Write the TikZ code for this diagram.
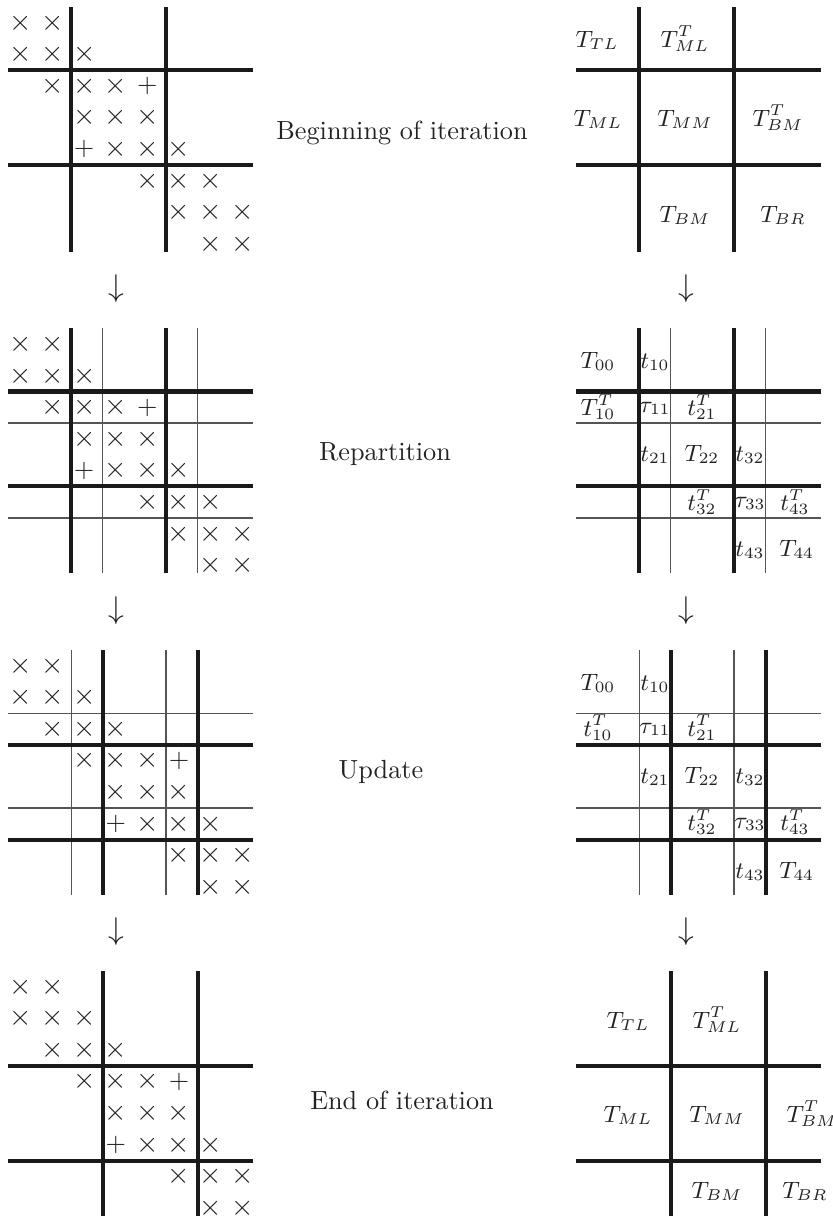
\documentclass[tikz,border=0pt]{standalone}
\usepackage{amsmath,amssymb}
\usepackage{tikz}
\definecolor{ink}{HTML}{222222}
\definecolor{rulecol}{HTML}{1A1A1A}
\definecolor{finecol}{HTML}{555555}
\newcommand{\cellw}{31.6}
\newcommand{\bandlist}{1/1,1/2,2/1,2/2,2/3,3/2,3/3,3/4,4/3,4/4,4/5,5/4,5/5,5/6,6/5,6/6,6/7,7/6,7/7,7/8,8/7,8/8}

\begin{document}
\begin{tikzpicture}[
    x=0.381pt, y=-0.381pt,
    font=\normalsize,
    heavy/.style={draw=rulecol, line width=1.55pt},
    light/.style={draw=finecol, line width=0.5pt},
    entry/.style={inner sep=0pt, text=ink, font=\fontsize{11}{13}\selectfont},
    plusentry/.style={inner sep=0pt, text=ink},
    blocklbl/.style={inner sep=0pt, anchor=base, text=ink, font=\small},
    phase/.style={inner sep=0pt, text=ink},
    down/.style={inner sep=0pt, text=ink, font=\fontsize{13}{15}\selectfont}
]
  \useasboundingbox (0,0) rectangle (833,1218);

  % beginning of iteration
  \begin{scope}[shift={(8,7)}]
    \foreach \k in {2,5} {
      \draw[heavy] (\k*\cellw,0) -- (\k*\cellw,245);
      \draw[heavy] (0,\k*\cellw) -- (245,\k*\cellw);
    }
    \foreach \r/\c in \bandlist
      \node[entry] (a-\r-\c) at ({13+(\c-1)*\cellw},{16+(\r-1)*\cellw}) {$\times$};
    \foreach \r/\c in {3/5,5/3}
      \node[plusentry] (a-\r-\c) at ({13+(\c-1)*\cellw},{16+(\r-1)*\cellw}) {$+$};
  \end{scope}
  \begin{scope}[shift={(576,7)}]
    \foreach \k in {2,5} {
      \draw[heavy] (\k*\cellw,0) -- (\k*\cellw,245);
      \draw[heavy] (0,\k*\cellw) -- (245,\k*\cellw);
    }
    \node[blocklbl] (a-tl) at (21,40) {$T_{TL}$};
    \node[blocklbl] (a-mlt) at (109,40) {$T_{ML}^T$};
    \node[blocklbl] (a-ml) at (22,119) {$T_{ML}$};
    \node[blocklbl] (a-mm) at (109,119) {$T_{MM}$};
    \node[blocklbl] (a-bmt) at (202,119) {$T_{BM}^T$};
    \node[blocklbl] (a-bm) at (109,215) {$T_{BM}$};
    \node[blocklbl] (a-br) at (207,215) {$T_{BR}$};
  \end{scope}
  \node[phase] (begin) at (402,133) {Beginning of iteration};
  \node[down] (a-dl) at (116.7,289) {$\downarrow$};
  \node[down] (a-dr) at (686.7,289) {$\downarrow$};

  % repartition
  \begin{scope}[shift={(8,328.3)}]
    \foreach \k in {3,6} {
      \draw[light] (\k*\cellw,0) -- (\k*\cellw,245);
      \draw[light] (0,\k*\cellw) -- (245,\k*\cellw);
    }
    \foreach \k in {2,5} {
      \draw[heavy] (\k*\cellw,0) -- (\k*\cellw,245);
      \draw[heavy] (0,\k*\cellw) -- (245,\k*\cellw);
    }
    \foreach \r/\c in \bandlist
      \node[entry] (b-\r-\c) at ({13+(\c-1)*\cellw},{16+(\r-1)*\cellw}) {$\times$};
    \foreach \r/\c in {3/5,5/3}
      \node[plusentry] (b-\r-\c) at ({13+(\c-1)*\cellw},{16+(\r-1)*\cellw}) {$+$};
  \end{scope}
  \begin{scope}[shift={(576,328.3)}]
    \foreach \k in {3,6} {
      \draw[light] (\k*\cellw,0) -- (\k*\cellw,245);
      \draw[light] (0,\k*\cellw) -- (245,\k*\cellw);
    }
    \foreach \k in {2,5} {
      \draw[heavy] (\k*\cellw,0) -- (\k*\cellw,245);
      \draw[heavy] (0,\k*\cellw) -- (245,\k*\cellw);
    }
    \node[blocklbl] (b-00) at (22,40) {$T_{00}$};
    \node[blocklbl] (b-10) at (79,40) {$t_{10}$};
    \node[blocklbl] (b-10t) at (22,87) {$T_{10}^T$};
    \node[blocklbl] (b-11) at (79,84) {$\tau_{11}$};
    \node[blocklbl] (b-21t) at (126,87) {$t_{21}^T$};
    \node[blocklbl] (b-21) at (79,133) {$t_{21}$};
    \node[blocklbl] (b-22) at (126,133) {$T_{22}$};
    \node[blocklbl] (b-32) at (174,133) {$t_{32}$};
    \node[blocklbl] (b-32t) at (126,182) {$t_{32}^T$};
    \node[blocklbl] (b-33) at (174,179) {$\tau_{33}$};
    \node[blocklbl] (b-43t) at (219,182) {$t_{43}^T$};
    \node[blocklbl] (b-43) at (174,228) {$t_{43}$};
    \node[blocklbl] (b-44) at (220.7,228) {$T_{44}$};
  \end{scope}
  \node[phase] (repart) at (385,454) {Repartition};
  \node[down] (b-dl) at (116.7,610.5) {$\downarrow$};
  \node[down] (b-dr) at (686.7,610.5) {$\downarrow$};

  % update
  \begin{scope}[shift={(8,650)}]
    \foreach \k in {2,5} {
      \draw[light] (\k*\cellw,0) -- (\k*\cellw,245);
      \draw[light] (0,\k*\cellw) -- (245,\k*\cellw);
    }
    \foreach \k in {3,6} {
      \draw[heavy] (\k*\cellw,0) -- (\k*\cellw,245);
      \draw[heavy] (0,\k*\cellw) -- (245,\k*\cellw);
    }
    \foreach \r/\c in \bandlist
      \node[entry] (c-\r-\c) at ({13+(\c-1)*\cellw},{16+(\r-1)*\cellw}) {$\times$};
    \foreach \r/\c in {4/6,6/4}
      \node[plusentry] (c-\r-\c) at ({13+(\c-1)*\cellw},{16+(\r-1)*\cellw}) {$+$};
  \end{scope}
  \begin{scope}[shift={(576,650)}]
    \foreach \k in {2,5} {
      \draw[light] (\k*\cellw,0) -- (\k*\cellw,245);
      \draw[light] (0,\k*\cellw) -- (245,\k*\cellw);
    }
    \foreach \k in {3,6} {
      \draw[heavy] (\k*\cellw,0) -- (\k*\cellw,245);
      \draw[heavy] (0,\k*\cellw) -- (245,\k*\cellw);
    }
    \node[blocklbl] (c-00) at (22,40) {$T_{00}$};
    \node[blocklbl] (c-10) at (79,40) {$t_{10}$};
    \node[blocklbl] (c-10t) at (22,86) {$t_{10}^T$};
    \node[blocklbl] (c-11) at (79,83) {$\tau_{11}$};
    \node[blocklbl] (c-21t) at (126,86) {$t_{21}^T$};
    \node[blocklbl] (c-21) at (79,133) {$t_{21}$};
    \node[blocklbl] (c-22) at (126,133) {$T_{22}$};
    \node[blocklbl] (c-32) at (174,133) {$t_{32}$};
    \node[blocklbl] (c-32t) at (126,180.5) {$t_{32}^T$};
    \node[blocklbl] (c-33) at (174,178) {$\tau_{33}$};
    \node[blocklbl] (c-43t) at (219,180.5) {$t_{43}^T$};
    \node[blocklbl] (c-43) at (174,228) {$t_{43}$};
    \node[blocklbl] (c-44) at (220.7,228) {$T_{44}$};
  \end{scope}
  \node[phase] (update) at (381,772) {Update};
  \node[down] (c-dl) at (116.7,931.8) {$\downarrow$};
  \node[down] (c-dr) at (686.7,931.8) {$\downarrow$};

  % end of iteration
  \begin{scope}[shift={(8,971)}]
    \foreach \k in {3,6} {
      \draw[heavy] (\k*\cellw,0) -- (\k*\cellw,245);
      \draw[heavy] (0,\k*\cellw) -- (245,\k*\cellw);
    }
    \foreach \r/\c in \bandlist
      \node[entry] (d-\r-\c) at ({13+(\c-1)*\cellw},{16+(\r-1)*\cellw}) {$\times$};
    \foreach \r/\c in {4/6,6/4}
      \node[plusentry] (d-\r-\c) at ({13+(\c-1)*\cellw},{16+(\r-1)*\cellw}) {$+$};
  \end{scope}
  \begin{scope}[shift={(576,971)}]
    \foreach \k in {3,6} {
      \draw[heavy] (\k*\cellw,0) -- (\k*\cellw,245);
      \draw[heavy] (0,\k*\cellw) -- (245,\k*\cellw);
    }
    \node[blocklbl] (d-tl) at (52,57) {$T_{TL}$};
    \node[blocklbl] (d-mlt) at (141,57) {$T_{ML}^T$};
    \node[blocklbl] (d-ml) at (52,151) {$T_{ML}$};
    \node[blocklbl] (d-mm) at (141,151) {$T_{MM}$};
    \node[blocklbl] (d-bmt) at (236,151) {$T_{BM}^T$};
    \node[blocklbl] (d-bm) at (141,227) {$T_{BM}$};
    \node[blocklbl] (d-br) at (229,227) {$T_{BR}$};
  \end{scope}
  \node[phase] (finish) at (402,1100) {End of iteration};
\end{tikzpicture}
\end{document}
